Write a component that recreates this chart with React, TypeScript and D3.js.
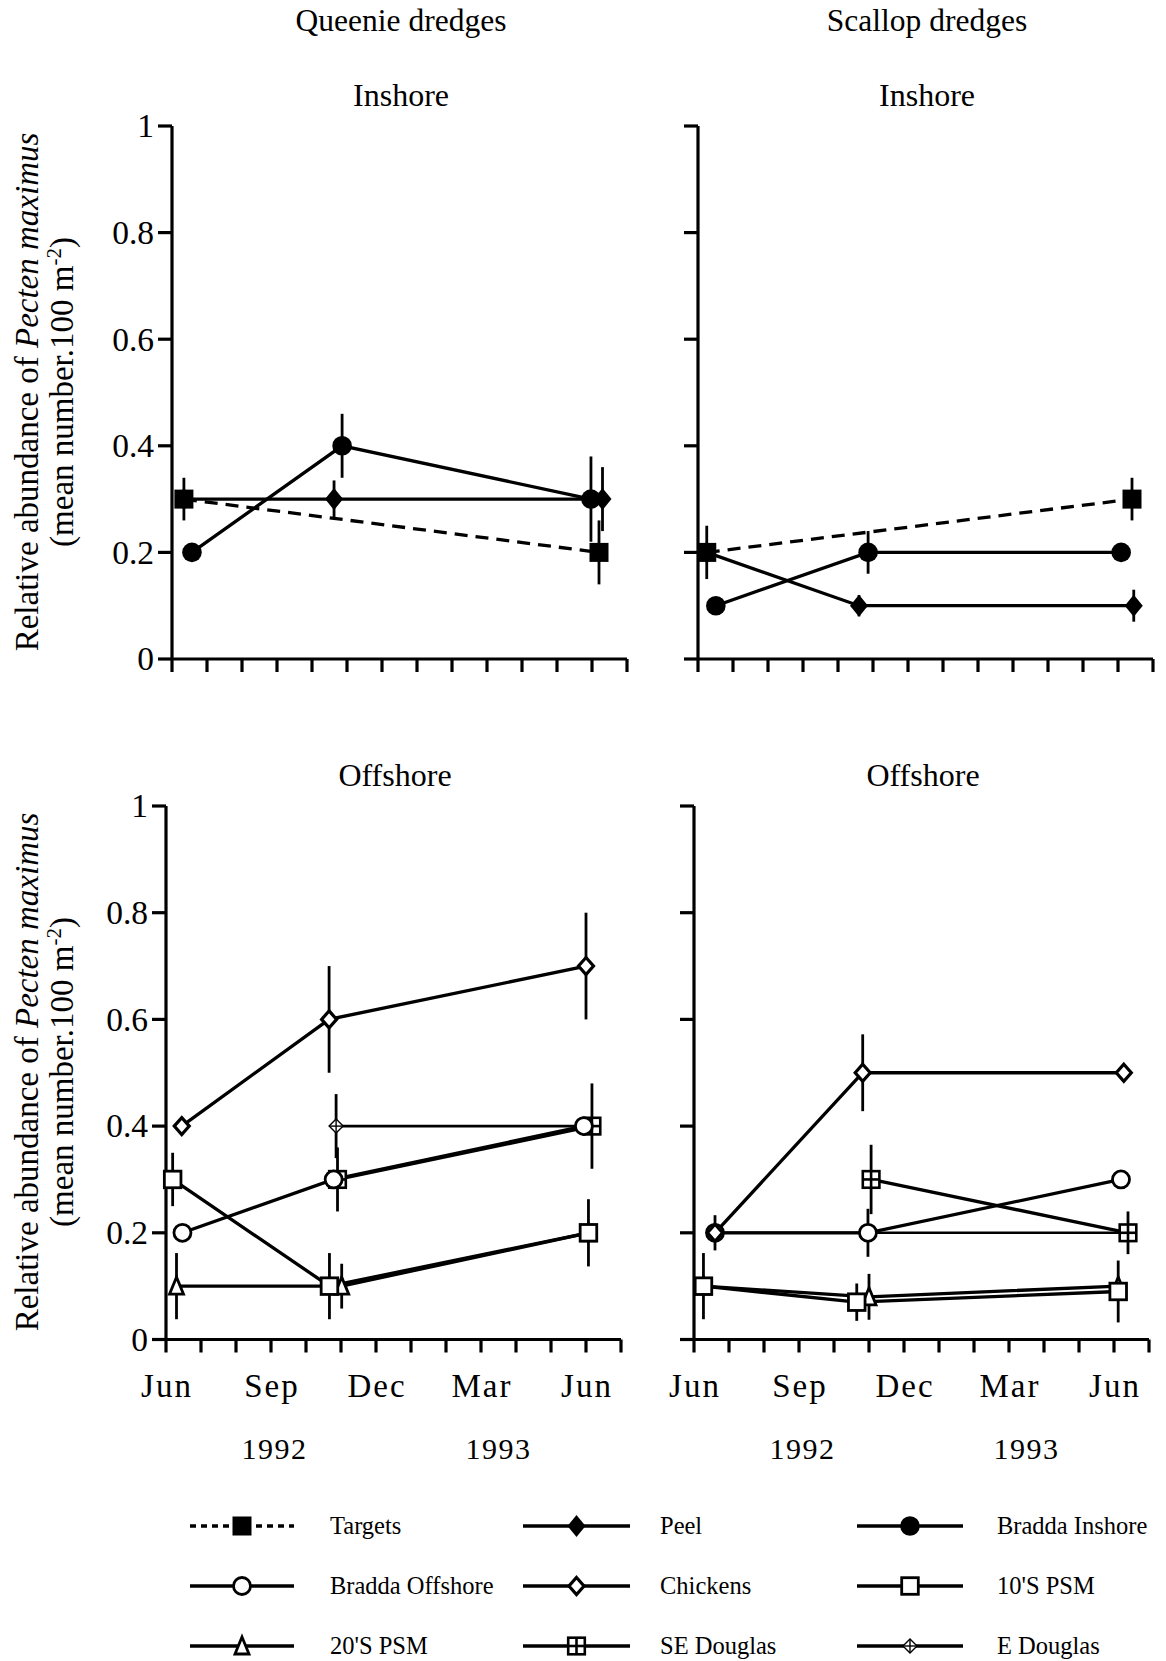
import React from 'react';
import * as d3 from 'd3';

const W = 1166;
const H = 1661;
const FONT = '"Liberation Serif", "Times New Roman", serif';

// month index: 0 = Jun 1992 ... 13 = Jul 1993
const monthTicks = d3.range(0, 14);
const monthLabels: [string, number][] = [['Jun', 0], ['Sep', 3], ['Dec', 6], ['Mar', 9], ['Jun', 12]];
const yearLabels: [string, number][] = [['1992', 3.1], ['1993', 9.5]];
const yTicks = [0, 0.2, 0.4, 0.6, 0.8, 1];
const yTickLabels = ['0', '0.2', '0.4', '0.6', '0.8', '1'];

// [month, mean, error]
type Pt = [number, number, number];

// Queenie dredges, inshore
const qiTargets: Pt[] = [[0.34, 0.3, 0.04], [12.2, 0.2, 0.06]];
const qiPeel: Pt[] = [[0.34, 0.3, 0], [4.63, 0.3, 0.035], [12.3, 0.3, 0.06]];
const qiBraddaIn: Pt[] = [[0.57, 0.2, 0], [4.86, 0.4, 0.06], [11.97, 0.3, 0.08]];

// Scallop dredges, inshore
const siTargets: Pt[] = [[0.25, 0.2, 0.05], [12.4, 0.3, 0.04]];
const siPeel: Pt[] = [[0.25, 0.2, 0], [4.6, 0.1, 0.02], [12.45, 0.1, 0.03]];
const siBraddaIn: Pt[] = [[0.51, 0.1, 0], [4.86, 0.2, 0.04], [12.09, 0.2, 0]];

// Queenie dredges, offshore
const qoChickens: Pt[] = [[0.45, 0.4, 0], [4.66, 0.6, 0.1], [12.0, 0.7, 0.1]];
const qoEDouglas: Pt[] = [[4.86, 0.4, 0.06], [12.0, 0.4, 0]];
const qoBraddaOff: Pt[] = [[0.47, 0.2, 0], [4.79, 0.3, 0], [11.94, 0.4, 0]];
const qoSEDouglas: Pt[] = [[4.9, 0.3, 0.06], [12.17, 0.4, 0.08]];
const qo10S: Pt[] = [[0.19, 0.3, 0.05], [4.67, 0.1, 0.062], [12.07, 0.2, 0.063]];
const qo20S: Pt[] = [[0.3, 0.1, 0.062], [5.02, 0.1, 0.042], [12.07, 0.2, 0]];

// Scallop dredges, offshore
const soChickens: Pt[] = [[0.6, 0.2, 0.033], [4.82, 0.5, 0.072], [12.28, 0.5, 0]];
const soBraddaOff: Pt[] = [[0.6, 0.2, 0], [4.97, 0.2, 0.045], [12.2, 0.3, 0]];
const soSEDouglas: Pt[] = [[5.06, 0.3, 0.065], [12.4, 0.2, 0.04]];
const soEDouglas: Pt[] = [[0.6, 0.2, 0], [4.97, 0.2, 0], [12.4, 0.2, 0]];
const so10S: Pt[] = [[0.27, 0.1, 0.062], [4.65, 0.07, 0.035], [12.12, 0.09, 0.058]];
const so20S: Pt[] = [[0.27, 0.1, 0], [5.0, 0.08, 0.043], [12.12, 0.1, 0]];

const legendNames = ['Targets', 'Peel', 'Bradda Inshore', 'Bradda Offshore', 'Chickens', "10'S PSM", "20'S PSM", 'SE Douglas', 'E Douglas'];

const styles: Record<string, { marker: string; dash?: string; width: number }> = {
  'Targets': { marker: 'sqFill', dash: '13,8', width: 3.3 },
  'Peel': { marker: 'diaFill', width: 3.3 },
  'Bradda Inshore': { marker: 'circFill', width: 3.3 },
  'Bradda Offshore': { marker: 'circOpen', width: 3.3 },
  'Chickens': { marker: 'diaOpen', width: 3.3 },
  "10'S PSM": { marker: 'sqOpen', width: 3.3 },
  "20'S PSM": { marker: 'triOpen', width: 3.3 },
  'SE Douglas': { marker: 'sqCross', width: 3.3 },
  'E Douglas': { marker: 'diaCross', width: 2.6 },
};

const panels = [
  { column: 'Queenie dredges', title: 'Inshore', x0: 172, top: 126, bottom: 659, yLabels: true, xLabels: false,
    series: [['Bradda Inshore', qiBraddaIn], ['Peel', qiPeel], ['Targets', qiTargets]] as [string, Pt[]][] },
  { column: 'Scallop dredges', title: 'Inshore', x0: 698, top: 126, bottom: 659, yLabels: false, xLabels: false,
    series: [['Bradda Inshore', siBraddaIn], ['Peel', siPeel], ['Targets', siTargets]] as [string, Pt[]][] },
  { column: '', title: 'Offshore', x0: 166, top: 806, bottom: 1339.5, yLabels: true, xLabels: true,
    series: [['E Douglas', qoEDouglas], ['SE Douglas', qoSEDouglas], ['Bradda Offshore', qoBraddaOff],
      ['Chickens', qoChickens], ["20'S PSM", qo20S], ["10'S PSM", qo10S]] as [string, Pt[]][] },
  { column: '', title: 'Offshore', x0: 694, top: 806, bottom: 1339.5, yLabels: false, xLabels: true,
    series: [['E Douglas', soEDouglas], ['SE Douglas', soSEDouglas], ['Bradda Offshore', soBraddaOff],
      ['Chickens', soChickens], ["20'S PSM", so20S], ["10'S PSM", so10S]] as [string, Pt[]][] },
];

const Marker = ({ type, x, y }: { type: string; x: number; y: number }) => {
  switch (type) {
    case 'sqFill':
      return <rect x={x - 9.5} y={y - 9.5} width={19} height={19} fill="#000" />;
    case 'diaFill':
      return <path d={`M${x},${y - 11}L${x + 9},${y}L${x},${y + 11}L${x - 9},${y}Z`} fill="#000" />;
    case 'circFill':
      return <circle cx={x} cy={y} r={9.8} fill="#000" />;
    case 'circOpen':
      return <circle cx={x} cy={y} r={8.5} fill="#fff" stroke="#000" strokeWidth={2.8} />;
    case 'diaOpen':
      return <path d={`M${x},${y - 8.5}L${x + 7.5},${y}L${x},${y + 8.5}L${x - 7.5},${y}Z`} fill="#fff" stroke="#000" strokeWidth={3.2} />;
    case 'sqOpen':
      return <rect x={x - 8.3} y={y - 8.3} width={16.6} height={16.6} fill="#fff" stroke="#000" strokeWidth={2.8} />;
    case 'triOpen':
      return <path d={`M${x},${y - 9}L${x + 7},${y + 8}L${x - 7},${y + 8}Z`} fill="#fff" stroke="#000" strokeWidth={2.8} />;
    case 'sqCross':
      return (
        <g stroke="#000" strokeWidth={2.6}>
          <rect x={x - 8.3} y={y - 8.3} width={16.6} height={16.6} fill="#fff" />
          <line x1={x} x2={x} y1={y - 8} y2={y + 8} />
          <line x1={x - 8} x2={x + 8} y1={y} y2={y} />
        </g>
      );
    case 'diaCross':
      return (
        <g stroke="#000" strokeWidth={1.4}>
          <path d={`M${x},${y - 7}L${x + 7},${y}L${x},${y + 7}L${x - 7},${y}Z`} fill="#fff" />
          <line x1={x} x2={x} y1={y - 7} y2={y + 7} />
          <line x1={x - 7} x2={x + 7} y1={y} y2={y} />
        </g>
      );
    default:
      return null;
  }
};

const Panel = ({ p }: { p: typeof panels[number] }) => {
  const x = d3.scaleLinear().domain([0, 13]).range([p.x0, p.x0 + 455]);
  const y = d3.scaleLinear().domain([0, 1]).range([p.bottom, p.top]);
  const line = d3.line<Pt>().x(d => x(d[0])).y(d => y(d[1]));
  const cx = p.x0 + 229;
  return (
    <g>
      {p.column && (
        <text x={cx} y={31} textAnchor="middle" fontSize={31.5}>{p.column}</text>
      )}
      <text x={cx} y={p.top - 20} textAnchor="middle" fontSize={32}>{p.title}</text>
      {/* axes */}
      <g stroke="#000" strokeWidth={3.2} fill="none">
        <line x1={x(0)} x2={x(0)} y1={y(0)} y2={y(1)} />
        <line x1={x(0)} x2={x(13)} y1={y(0)} y2={y(0)} />
        {yTicks.map(t => (
          <line key={t} x1={x(0) - 14} x2={x(0)} y1={y(t)} y2={y(t)} />
        ))}
        {monthTicks.map(m => (
          <line key={m} x1={x(m)} x2={x(m)} y1={y(0)} y2={y(0) + 13} />
        ))}
      </g>
      {p.yLabels && yTicks.map((t, i) => (
        <text key={t} x={x(0) - 18} y={y(t)} dy="0.34em" textAnchor="end" fontSize={33.5}>{yTickLabels[i]}</text>
      ))}
      {p.xLabels && monthLabels.map(([l, m], i) => (
        <text key={i} x={x(m) + 1} y={y(0) + 57} textAnchor="middle" fontSize={33} letterSpacing={2}>{l}</text>
      ))}
      {p.xLabels && yearLabels.map(([l, m], i) => (
        <text key={i} x={x(m)} y={y(0) + 119} textAnchor="middle" fontSize={30} letterSpacing={1.5}>{l}</text>
      ))}
      {/* lines */}
      {p.series.map(([name, data]) => (
        <path key={name} d={line(data) || ''} fill="none" stroke="#000"
          strokeWidth={styles[name].width} strokeDasharray={styles[name].dash} />
      ))}
      {/* error bars */}
      <g stroke="#000" strokeWidth={2.8}>
        {p.series.flatMap(([name, data]) => data.filter(d => d[2] > 0).map((d, i) => (
          <line key={name + i} x1={x(d[0])} x2={x(d[0])} y1={y(d[1] - d[2])} y2={y(d[1] + d[2])} />
        )))}
      </g>
      {/* markers */}
      {p.series.flatMap(([name, data]) => data.map((d, i) => (
        <Marker key={name + i} type={styles[name].marker} x={x(d[0])} y={y(d[1])} />
      )))}
    </g>
  );
};

const legendCols = [{ x1: 190, x2: 294, text: 330 }, { x1: 523, x2: 630, text: 660 }, { x1: 857, x2: 963, text: 997 }];
const legendRows = [1526, 1586, 1646];

const Legend = () => (
  <g>
    {legendNames.map((name, i) => {
      const c = legendCols[i % 3];
      const ry = legendRows[Math.floor(i / 3)];
      const st = styles[name];
      return (
        <g key={name}>
          <line x1={c.x1} x2={c.x2} y1={ry} y2={ry} stroke="#000" strokeWidth={3.3}
            strokeDasharray={st.dash ? '6,5' : undefined} />
          <Marker type={st.marker} x={(c.x1 + c.x2) / 2} y={ry} />
          <text x={c.text} y={ry + 8} fontSize={24.5}>{name}</text>
        </g>
      );
    })}
  </g>
);

const YTitle = ({ cy }: { cy: number }) => (
  <g>
    <text transform={`translate(38,${cy}) rotate(-90)`} textAnchor="middle" fontSize={33}>
      Relative abundance of <tspan fontStyle="italic">Pecten maximus</tspan>
    </text>
    <text transform={`translate(73,${cy}) rotate(-90)`} textAnchor="middle" fontSize={33}>
      (mean number.100 m<tspan dy={-12} fontSize={21}>-2</tspan><tspan dy={12}>)</tspan>
    </text>
  </g>
);

export default function App() {
  return (
    <svg width={W} height={H} style={{ position: 'absolute', left: 0, top: 0, background: '#fff' }}
      fontFamily={FONT}>
      <rect width={W} height={H} fill="#fff" />
      {panels.map((p, i) => <Panel key={i} p={p} />)}
      <YTitle cy={392} />
      <YTitle cy={1072} />
      <Legend />
    </svg>
  );
}
